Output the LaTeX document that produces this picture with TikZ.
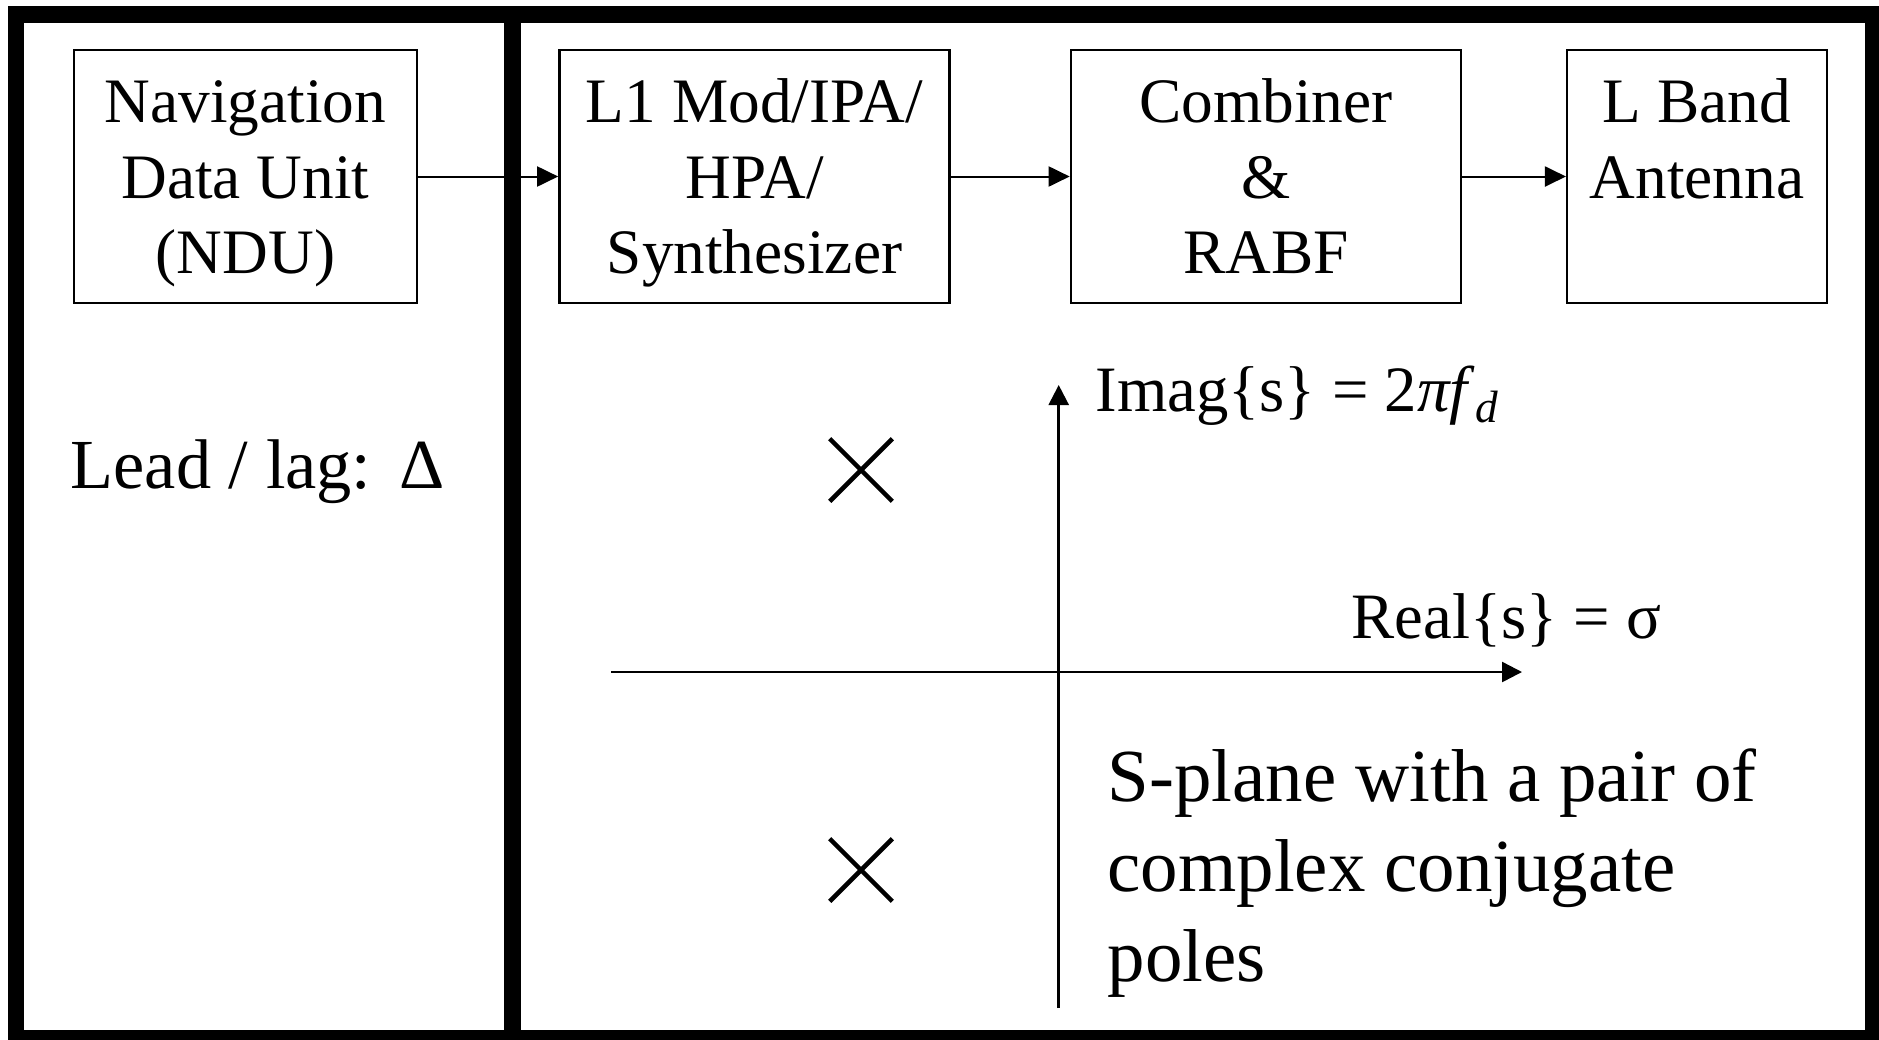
\documentclass[tikz,border=0pt]{standalone}
\usepackage{fontspec}
\setmainfont{Liberation Serif}
\usetikzlibrary{arrows.meta,shapes.misc}
% font sizes for the different text groups
\newcommand\blkfont{\fontsize{18pt}{21.34pt}\selectfont}
\newcommand\leadfont{\fontsize{20pt}{24pt}\selectfont}
\newcommand\axfont{\fontsize{18.4pt}{22pt}\selectfont}
\newcommand\notefont{\fontsize{21.3pt}{25.6pt}\selectfont}
% struts that give every block text the same vertical extent
\newcommand\topstrut{\rule{0pt}{0.6cm}}
\newcommand\botstrut{\rule[-0.17cm]{0pt}{0.17cm}}
\begin{document}
\begin{tikzpicture}[x=0.01cm,y=-0.01cm,
  outerframe/.style={line width=0.16cm},
  blk/.style={draw, line width=0.7pt, inner sep=0pt, align=center,
    minimum height=2.53cm, font=\blkfont},
  flow/.style={line width=0.57pt, -{Triangle[length=0.21cm,width=0.2cm]}},
  axis/.style={line width=0.7pt, -{Triangle[length=0.2cm,width=0.2cm]}},
  pole/.style={cross out, draw, line width=1.3pt, minimum size=0.58cm, inner sep=0pt},
  lbl/.style={inner sep=0pt, anchor=base west}]
\useasboundingbox (0,0) rectangle (1879,1039);
\clip (0,0) rectangle (1879,1039);

% outer frame and the divider between the two panels
\draw[outerframe] (16,14.5) rectangle (1873,1038);
\draw[line width=0.17cm] (512.5,14.5) -- (512.5,1038);

% signal chain
\node[blk, minimum width=3.43cm] (ndu) at (245.5,176.5)
  {\topstrut Navigation\\Data Unit\\(NDU)\botstrut};
\node[blk, minimum width=3.90cm] (mod) at (754.5,176.5)
  {\topstrut L1 Mod/IPA/\\HPA/\\Synthesizer\botstrut};
\node[blk, minimum width=3.90cm] (comb) at (1266,176.5)
  {\topstrut Combiner\\\&\\RABF\botstrut};
\node[blk, minimum width=2.595cm] (ant) at (1697,176.5)
  {\topstrut L Band\\Antenna\\\botstrut};

\draw[flow] (ndu) -- (mod);
\draw[flow] (mod) -- (comb);
\draw[flow] (comb) -- (ant);

% left panel label
\node[lbl, font=\leadfont] (lead) at (70,488) {Lead / lag:\hspace{0.4em}Δ};

% s-plane axes
\coordinate (vbot) at (1058.7,1008);
\coordinate (vtop) at (1058.7,385);
\coordinate (hleft) at (611,672);
\coordinate (hright) at (1522,672);
\draw[axis] (vbot) -- (vtop);
\draw[axis] (hleft) -- (hright);

\node[lbl, font=\axfont] (imag) at (1095,411.7) {Imag\{s\} = 2\textit{πf}\textsubscript{\textit{d}}};
\node[lbl, font=\axfont] (real) at (1351,638) {Real\{s\} = σ};

% conjugate pole pair
\node[pole] (p1) at (861,470) {};
\node[pole] (p2) at (861,870) {};

% the base of a multi-line node is the baseline of its last line
\node[lbl, font=\notefont, align=left] (note) at (1107,981.7)
  {S-plane with a pair of\\complex conjugate\\poles};
\end{tikzpicture}
\end{document}
